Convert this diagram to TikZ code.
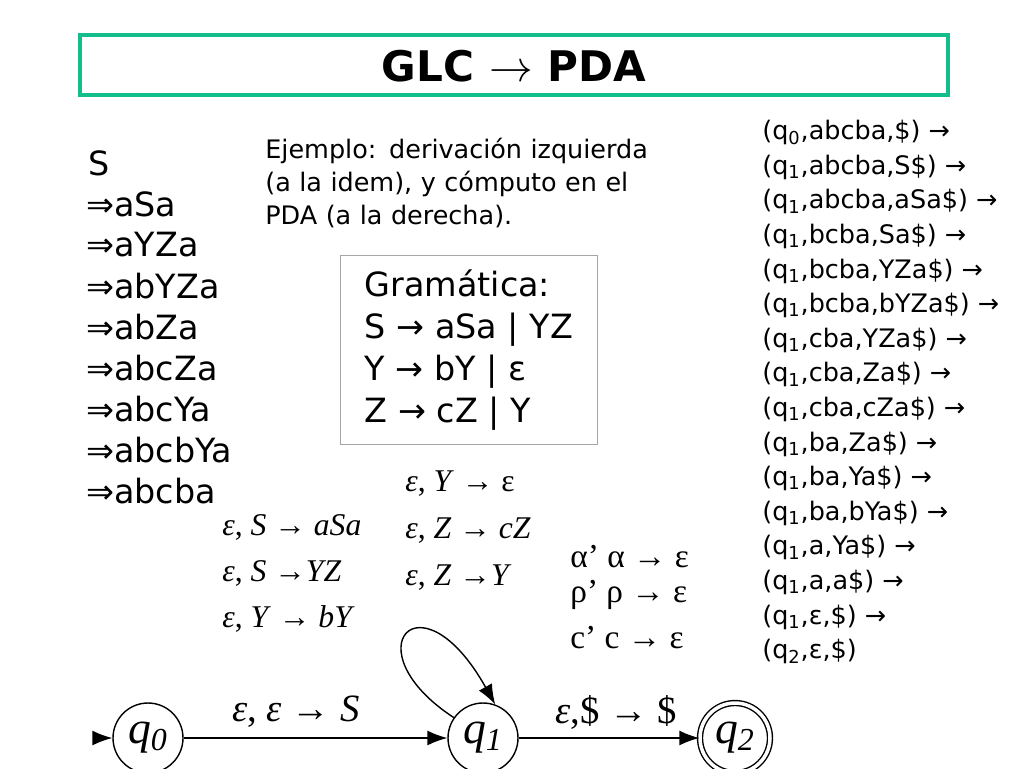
\documentclass[tikz,border=0pt]{standalone}
\usepackage{fontspec}
\setmainfont{DejaVu Sans}
\newfontfamily\lblfont{Liberation Serif}
\usetikzlibrary{arrows.meta,automata,positioning}
\tikzset{
  txt/.style={anchor=west, inner sep=0pt, font=\fontsize{19}{24}\selectfont},
  small/.style={anchor=west, inner sep=0pt, font=\fontsize{14.5}{19}\selectfont},
  lbl/.style={anchor=west, inner sep=0pt, font=\lblfont\fontsize{18}{22}\selectfont},
  biglbl/.style={anchor=west, inner sep=0pt, font=\lblfont\fontsize{22}{26}\selectfont},
  st/.style={circle, draw, thick, minimum size=1.4cm, inner sep=0pt, font=\lblfont\itshape\fontsize{26}{30}\selectfont},
  arrow/.style={thick,-{Latex[length=4mm,width=3mm]}}
}
\begin{document}
\begin{tikzpicture}[x=0.02cm,y=-0.02cm]
\useasboundingbox (0,0) rectangle (1024,768);
% title
\draw[line width=2.5pt, draw={rgb,255:red,20;green,190;blue,140}, fill=white] (80,35) rectangle (948,95);
\node (title) at (514,66) {\fontsize{24}{28}\selectfont\bfseries GLC $\rightarrow$ PDA};
% derivation
\node (d0) [txt] at (88,163) {S};
\foreach \w [count=\i] in {aSa,aYZa,abYZa,abZa,abcZa,abcYa,abcbYa,abcba}
  \node (d\i) [txt] at (86,163+41*\i) {⇒\w};
% example note
\node (note) [small, text width=9cm, align=left] at (265,183) {Ejemplo: derivación izquierda\\(a la idem), y cómputo en el\\PDA (a la derecha).};
% grammar
\node (gram) [draw, gray!70, text=black, anchor=north west, inner sep=8pt, align=left, font=\fontsize{19}{24}\selectfont, minimum width=257*0.02cm, minimum height=175*0.02cm] at (340,255) {Gramática:\\S → aSa | YZ\\Y → bY | ε\\Z → cZ | Y};
% computation
\foreach \c [count=\i] in {{(q\textsubscript{0},abcba,\$) →},{(q\textsubscript{1},abcba,S\$) →},{(q\textsubscript{1},abcba,aSa\$) →},{(q\textsubscript{1},bcba,Sa\$) →},{(q\textsubscript{1},bcba,YZa\$) →},{(q\textsubscript{1},bcba,bYZa\$) →},{(q\textsubscript{1},cba,YZa\$) →},{(q\textsubscript{1},cba,Za\$) →},{(q\textsubscript{1},cba,cZa\$) →},{(q\textsubscript{1},ba,Za\$) →},{(q\textsubscript{1},ba,Ya\$) →},{(q\textsubscript{1},ba,bYa\$) →},{(q\textsubscript{1},a,Ya\$) →},{(q\textsubscript{1},a,a\$) →},{(q\textsubscript{1},ε,\$) →},{(q\textsubscript{2},ε,\$)}}
  \node (c\i) [small] at (762,98+34.6*\i) {\c};
% automaton
\node (q0) [st] at (148,738) {q\textsubscript{0}};
\node (q1) [st] at (483,738) {q\textsubscript{1}};
\node (q2) [st, double, double distance=2pt] at (735,738) {q\textsubscript{2}};
\coordinate (start) at (98,738);
\draw [arrow] (start) -- (q0);
\draw [arrow] (q0) -- (q1);
\draw [arrow] (q1) -- (q2);
\draw [arrow] (q1.145) .. controls (350,650) and (420,570) .. (q1.70);
% labels
\node (l01) [biglbl] at (232,712) {\textit{ε}, \textit{ε} → \textit{S}};
\node (l12) [biglbl] at (555,712) {\textit{ε},\$ → \$};
\foreach \t [count=\i] in {{\textit{ε}, \textit{S} → \textit{aSa}},{\textit{ε}, \textit{S} →\textit{YZ}},{\textit{ε}, \textit{Y} → \textit{bY}}}
  \node (la\i) [lbl] at (222,481+46*\i) {\t};
\foreach \t [count=\i] in {{\textit{ε}, \textit{Y} → ε},{\textit{ε}, \textit{Z} → \textit{cZ}},{\textit{ε}, \textit{Z} →\textit{Y}}}
  \node (lb\i) [lbl] at (405,437+47*\i) {\t};
\foreach \t/\yy in {{α’ α → ε}/557,{ρ’ ρ → ε}/595,{c’ c → ε}/638}
  \node [lbl, font=\lblfont\fontsize{19}{22}\selectfont] at (570,\yy) {\t};
\end{tikzpicture}
\end{document}
